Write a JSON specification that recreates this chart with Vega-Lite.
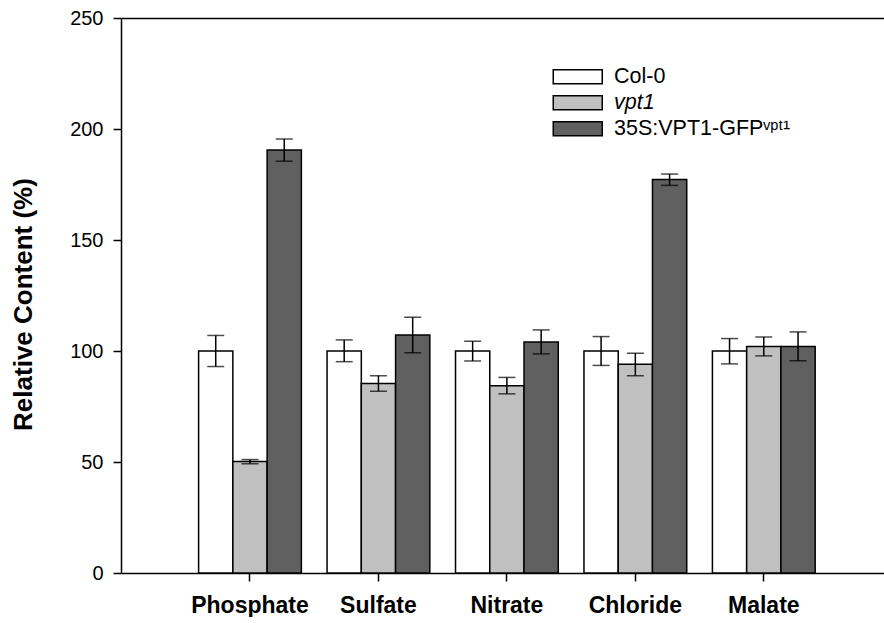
{
  "$schema": "https://vega.github.io/schema/vega-lite/v6.json",
  "width": 763,
  "height": 555,
  "padding": {"left": 10, "top": 8, "right": 0, "bottom": 0},
  "background": "white",
  "config": {
    "view": {"stroke": null},
    "font": "Liberation Sans",
    "axis": {"grid": false, "domainColor": "black", "tickColor": "black", "labelColor": "black", "titleColor": "black", "domainWidth": 1.5, "tickWidth": 1.5}
  },
  "data": {
    "values": [
      {"anion": "Phosphate", "line": "Col-0", "mean": 100, "lo": 93, "hi": 107},
      {"anion": "Phosphate", "line": "vpt1", "mean": 50.2, "lo": 49.2, "hi": 51.1},
      {"anion": "Phosphate", "line": "35S:VPT1-GFPᵛᵖᵗ¹", "mean": 190.5, "lo": 185.5, "hi": 195.5},
      {"anion": "Sulfate", "line": "Col-0", "mean": 100, "lo": 95.2, "hi": 105},
      {"anion": "Sulfate", "line": "vpt1", "mean": 85.4, "lo": 81.9, "hi": 88.9},
      {"anion": "Sulfate", "line": "35S:VPT1-GFPᵛᵖᵗ¹", "mean": 107.2, "lo": 99.2, "hi": 115.2},
      {"anion": "Nitrate", "line": "Col-0", "mean": 100, "lo": 95.5, "hi": 104.4},
      {"anion": "Nitrate", "line": "vpt1", "mean": 84.4, "lo": 80.7, "hi": 88.1},
      {"anion": "Nitrate", "line": "35S:VPT1-GFPᵛᵖᵗ¹", "mean": 104, "lo": 98.7, "hi": 109.5},
      {"anion": "Chloride", "line": "Col-0", "mean": 100, "lo": 93.5, "hi": 106.5},
      {"anion": "Chloride", "line": "vpt1", "mean": 94, "lo": 88.9, "hi": 99},
      {"anion": "Chloride", "line": "35S:VPT1-GFPᵛᵖᵗ¹", "mean": 177.3, "lo": 174.6, "hi": 179.7},
      {"anion": "Malate", "line": "Col-0", "mean": 100, "lo": 94.2, "hi": 105.6},
      {"anion": "Malate", "line": "vpt1", "mean": 102, "lo": 97.8, "hi": 106.3},
      {"anion": "Malate", "line": "35S:VPT1-GFPᵛᵖᵗ¹", "mean": 102, "lo": 95.6, "hi": 108.6}
    ]
  },
  "layer": [
    {
      "mark": {"type": "bar", "stroke": "black", "strokeWidth": 1.5},
      "encoding": {
        "x": {
          "field": "anion", "type": "nominal", "sort": null,
          "scale": {"paddingInner": 0.2, "paddingOuter": 0.57, "align": 0.53},
          "axis": {"title": null, "labelAngle": 0, "labelFontSize": 23, "labelFontWeight": "bold", "labelPadding": 13, "tickSize": 8, "domainWidth": 1.5}
        },
        "xOffset": {"field": "line", "type": "nominal", "sort": ["Col-0", "vpt1", "35S:VPT1-GFPᵛᵖᵗ¹"], "scale": {"paddingInner": 0, "paddingOuter": 0}},
        "y": {
          "field": "mean", "type": "quantitative",
          "scale": {"domain": [0, 250], "nice": false},
          "axis": {"title": "Relative Content (%)", "values": [0, 50, 100, 150, 200, 250], "labelFontSize": 20, "titleFontSize": 26, "titleFontWeight": "bold", "titleY": 286, "tickSize": 8, "labelPadding": 10, "titlePadding": 33}
        },
        "fill": {
          "field": "line", "type": "nominal",
          "scale": {"domain": ["Col-0", "vpt1", "35S:VPT1-GFPᵛᵖᵗ¹"], "range": ["#ffffff", "#c0c0c0", "#606060"]},
          "legend": {
            "title": null, "orient": "none", "legendX": 446, "legendY": 48,
            "symbolType": "M-3.5,-1L3.5,-1L3.5,1L-3.5,1Z",
            "symbolSize": 196, "symbolStrokeColor": "black", "symbolStrokeWidth": 1.5,
            "labelFontSize": 21.5, "labelColor": "black", "labelOffset": 25.5, "rowPadding": 3, "labelLimit": 0,
            "labelFontStyle": {"expr": "datum.label == 'vpt1' ? 'italic' : 'normal'"},
            "padding": 0
          }
        }
      }
    },
    {
      "mark": {"type": "rule", "color": "black", "strokeWidth": 1.5},
      "encoding": {
        "x": {"field": "anion", "type": "nominal", "sort": null, "axis": {"orient": "top", "labels": false, "ticks": false, "title": null, "domainWidth": 1.5}},
        "xOffset": {"field": "line", "type": "nominal", "sort": ["Col-0", "vpt1", "35S:VPT1-GFPᵛᵖᵗ¹"]},
        "y": {"field": "lo", "type": "quantitative"},
        "y2": {"field": "hi"}
      }
    },
    {
      "mark": {"type": "tick", "color": "black", "thickness": 1.5, "size": 17},
      "encoding": {
        "x": {"field": "anion", "type": "nominal", "sort": null, "axis": null},
        "xOffset": {"field": "line", "type": "nominal", "sort": ["Col-0", "vpt1", "35S:VPT1-GFPᵛᵖᵗ¹"]},
        "y": {"field": "lo", "type": "quantitative"}
      }
    },
    {
      "mark": {"type": "tick", "color": "black", "thickness": 1.5, "size": 17},
      "encoding": {
        "x": {"field": "anion", "type": "nominal", "sort": null, "axis": null},
        "xOffset": {"field": "line", "type": "nominal", "sort": ["Col-0", "vpt1", "35S:VPT1-GFPᵛᵖᵗ¹"]},
        "y": {"field": "hi", "type": "quantitative"}
      }
    }
  ],
  "resolve": {"axis": {"x": "independent"}}
}
